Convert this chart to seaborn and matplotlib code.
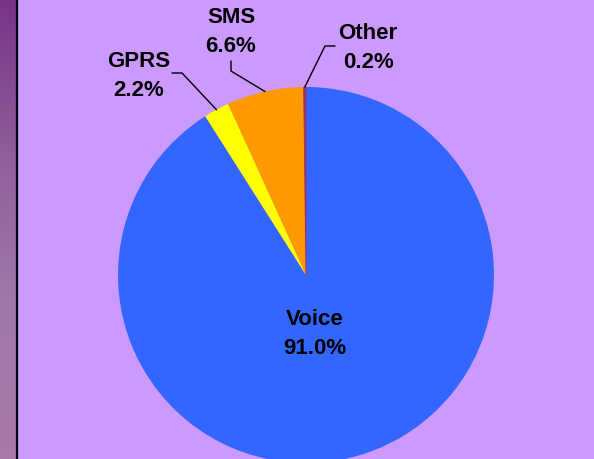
import numpy as np
import matplotlib
matplotlib.use("Agg")
import matplotlib.pyplot as plt
from matplotlib.colors import LinearSegmentedColormap
import seaborn as sns

sns.set_style("white")
plt.rcParams['font.family'] = ['Liberation Sans', 'DejaVu Sans']

# ---- data ----
categories = ["Voice", "GPRS", "SMS", "Other"]
shares = [91.0, 2.2, 6.6, 0.2]
colors = ["#3366FF", "#FFFF00", "#FF9900", "#993366"]

W, H = 594, 460
fig = plt.figure(figsize=(W / 100, H / 100), dpi=100)
fig.patch.set_facecolor("#CC99FF")
ax = fig.add_axes([0, 0, 1, 1])
ax.set_facecolor("#CC99FF")

def py(y):  # pixel row -> data y
    return H - y

cx, cy, r = 306, py(276), 188
wedges, _ = ax.pie(shares, colors=colors, startangle=90, counterclock=False,
                   center=(cx, cy), radius=r, frame=True,
                   wedgeprops=dict(linewidth=0.6, edgecolor="none"))
wedges[3].set_edgecolor("#993366")
ax.set_xlim(0, W)
ax.set_ylim(0, H)
ax.axis("off")

# left decorative strip (top dark -> bottom light)
cmap = LinearSegmentedColormap.from_list("strip", ["#773388", "#8F5E99", "#A07AAA", "#AA7AA8"])
grad = np.linspace(0, 1, 256).reshape(-1, 1)
ax.imshow(grad, cmap=cmap, extent=[0, 16, 0, H], origin="upper", aspect="auto", zorder=1)
ax.plot([16.5, 16.5], [0, H], color="black", lw=1.6, zorder=2)
ax.set_xlim(0, W)
ax.set_ylim(0, H)

def edge_point(w, frac=1.0):
    th = np.deg2rad((w.theta1 + w.theta2) / 2)
    return cx + r * frac * np.cos(th), cy + r * frac * np.sin(th)

fs = 16
txt = dict(fontsize=fs, fontweight="bold", ha="center", va="center",
           color="black", linespacing=1.5)

def label(i):
    return f"{categories[i]}\n{shares[i]:.1f}%"

# Voice label inside
ax.text(315, py(334), label(0), zorder=5, **txt)

# outside labels with leader lines
ax.text(139, py(76), label(1), zorder=5, **txt)
ax.text(231, py(32), label(2), zorder=5, **txt)
ax.text(368, py(48), label(3), zorder=5, **txt)

lines = {
    1: [(172, py(74)), (182, py(74))],
    2: [(231, py(62)), (231, py(72))],
    3: [(335, py(47)), (325, py(47))],
}
for i, pts in lines.items():
    ex, ey = edge_point(wedges[i])
    xs = [p[0] for p in pts] + [ex]
    ys = [p[1] for p in pts] + [ey]
    ax.plot(xs, ys, color="black", lw=1.0, zorder=4)

fig.savefig("out.png", dpi=100, facecolor=fig.get_facecolor())
